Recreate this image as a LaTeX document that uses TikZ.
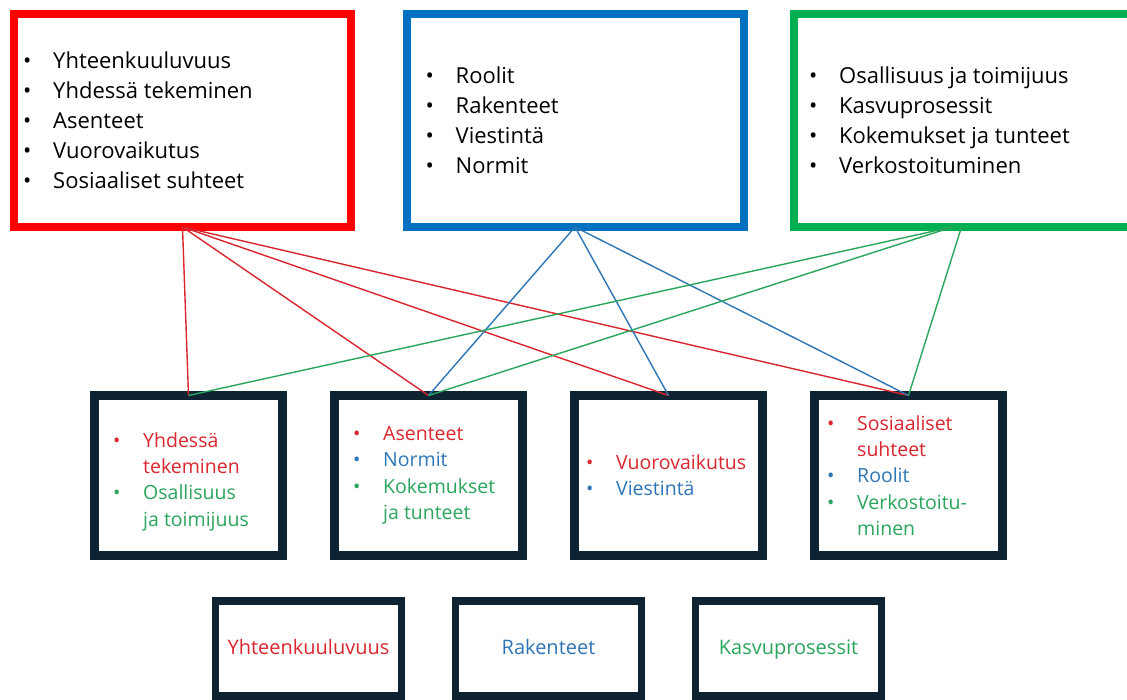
\documentclass[tikz,border=0pt]{standalone}
\usepackage{fontspec}
\setmainfont{Open Sans}
\usetikzlibrary{positioning}

\definecolor{boxred}{HTML}{FF0000}
\definecolor{boxblue}{HTML}{0070C0}
\definecolor{boxgreen}{HTML}{00B050}
\definecolor{navy}{HTML}{0E2433}
\definecolor{txtred}{HTML}{D9262F}
\definecolor{txtblue}{HTML}{2E75B6}
\definecolor{txtgreen}{HTML}{2AA55C}

\newcommand{\bul}{\makebox[30pt][l]{\textbullet}}
\newcommand{\cont}{\hspace*{30pt}}

\tikzset{
  topbox/.style={draw=#1, line width=8pt, minimum width=337pt, minimum height=213pt,
    inner sep=0pt, outer sep=0pt},
  midbox/.style={draw=navy, line width=9pt, minimum width=188pt, minimum height=160pt,
    inner sep=0pt, outer sep=0pt},
  lowbox/.style={draw=navy, line width=7.5pt, minimum width=186pt, minimum height=95pt,
    inner sep=0pt, outer sep=0pt, text height=15pt, text depth=4pt,
    font=\fontsize{20}{24}\selectfont},
  toplist/.style={inner sep=0pt, align=left, font=\fontsize{22}{30}\selectfont},
  midlist/.style={inner sep=0pt, align=left, font=\fontsize{19.5}{26.3}\selectfont},
  link/.style={draw=#1, line width=1.4pt}
}

\begin{document}
\begin{tikzpicture}[x=1pt, y=-1pt]
      \clip (0,0) rectangle (1127,700);
      \fill[white] (0,0) rectangle (1127,700);

      \node[topbox=boxred] (red) at (182.5,120.5) {};
      \node[topbox=boxblue] (blue) at (575,120.5) {};
      \node[topbox=boxgreen] (green) at (962.5,120.5) {};

      \node[toplist, right=9pt of red.west] (redlist)
        {\bul Yhteenkuuluvuus\\ \bul Yhdessä tekeminen\\ \bul Asenteet\\
         \bul Vuorovaikutus\\ \bul Sosiaaliset suhteet};
      \node[toplist, right=19pt of blue.west] (bluelist)
        {\bul Roolit\\ \bul Rakenteet\\ \bul Viestintä\\ \bul Normit};
      \node[toplist, right=15pt of green.west] (greenlist)
        {\bul Osallisuus ja toimijuus\\ \bul Kasvuprosessit\\
         \bul Kokemukset ja tunteet\\ \bul Verkostoituminen};

      \node[midbox] (m1) at (188.5,475.5) {};
      \node[midbox] (m2) at (428.5,475.5) {};
      \node[midbox] (m3) at (668.5,475.5) {};
      \node[midbox] (m4) at (908.5,475.5) {};

      \node[midlist, right=18.5pt of m1.west, yshift=-6pt] (m1list)
        {\color{txtred}\bul Yhdessä\\ \color{txtred}\cont tekeminen\\
         \color{txtgreen}\bul Osallisuus\\ \color{txtgreen}\cont ja toimijuus};
      \node[midlist, right=18.5pt of m2.west] (m2list)
        {\color{txtred}\bul Asenteet\\ \color{txtblue}\bul Normit\\
         \color{txtgreen}\bul Kokemukset\\ \color{txtgreen}\cont ja tunteet};
      \node[midlist, right=11.5pt of m3.west] (m3list)
        {\color{txtred}\bul Vuorovaikutus\\ \color{txtblue}\bul Viestintä};
      \node[midlist, right=12.5pt of m4.west] (m4list)
        {\color{txtred}\bul Sosiaaliset\\ \color{txtred}\cont suhteet\\
         \color{txtblue}\bul Roolit\\ \color{txtgreen}\bul Verkostoitu-\\
         \color{txtgreen}\cont minen};

      \node[lowbox, text=txtred] (l1) at (308.5,648.5) {Yhteenkuuluvuus};
      \node[lowbox, text=txtblue] (l2) at (548.5,648.5) {Rakenteet};
      \node[lowbox, text=txtgreen] (l3) at (788.5,648.5) {Kasvuprosessit};

      \coordinate (g1) at ([xshift=-10pt]green.south);
      \coordinate (g2) at ([xshift=-1pt]green.south);
      \begin{scope}[-]
        \draw[link=txtred] (red.south) to (m1.north);
        \draw[link=txtred] (red.south) to (m2.north);
        \draw[link=txtred] (red.south) to (m3.north);
        \draw[link=txtred] (red.south) to (m4.north);
        \draw[link=txtblue] (blue.south) to (m2.north);
        \draw[link=txtblue] (blue.south) to (m3.north);
        \draw[link=txtblue] (blue.south) to (m4.north);
        \draw[link=txtgreen] (g1) to (m1.north);
        \draw[link=txtgreen] (g1) to (m2.north);
        \draw[link=txtgreen] (g2) to (m4.north);
      \end{scope}
    \end{tikzpicture}
\end{document}
